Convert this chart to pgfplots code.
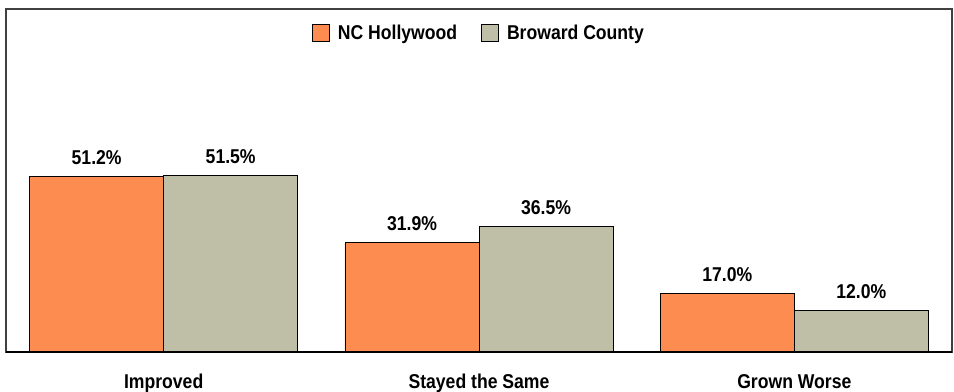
\documentclass[border=0pt]{standalone}
\usepackage{fontspec}
\setmainfont{Liberation Sans}[FakeStretch=0.88]
\usepackage{pgfplots}
\pgfplotsset{compat=1.18}
\definecolor{ncorange}{RGB}{253,140,80}
\definecolor{browgrey}{RGB}{191,191,168}

\begin{document}
\begin{tikzpicture}
\begin{axis}[
    name=ax,
    ybar=0pt,
    bar width=0.425,
    width=946pt, height=343pt,
    scale only axis,
    xmin=-0.5, xmax=2.5,
    ymin=0, ymax=100,
    xtick={0,1,2},
    xticklabels={Improved, Stayed the Same, Grown Worse},
    major tick length=0pt,
    ytick=\empty,
    xticklabel style={anchor=north, inner sep=0pt, yshift=-22pt, font=\fontsize{20}{24}\selectfont\bfseries},
    axis line style={draw=black!75, line width=1.3pt},
    /pgf/number format/assume math mode=true,
    nodes near coords={\pgfmathprintnumber[fixed,fixed zerofill,precision=1]{\pgfplotspointmeta}\%},
    nodes near coords style={anchor=base, inner sep=0pt, yshift=12pt, font=\fontsize{20}{24}\selectfont\bfseries},
    legend columns=2,
    legend style={at={(0.5,0.967)}, anchor=north, draw=none, fill=none,
        font=\fontsize{20}{24}\selectfont\bfseries,
        /tikz/every odd column/.append style={column sep=6pt},
        /tikz/every even column/.append style={column sep=22pt}},
    legend image code/.code={\draw[#1, draw=black, line width=0.8pt] (0pt,-8.5pt) rectangle (17pt,8.5pt);},
]
\addplot[fill=ncorange, draw=black, line width=0.8pt] coordinates {(0,51.2) (1,31.9) (2,17.0)};
\addplot[fill=browgrey, draw=black, line width=0.8pt] coordinates {(0,51.5) (1,36.5) (2,12.0)};
\legend{NC Hollywood, Broward County}
\draw[line width=2pt, black] (rel axis cs:0,0) -- (rel axis cs:1,0);
\end{axis}
\pgfresetboundingbox
\path ([shift={(-6pt,-39pt)}]ax.south west) rectangle ([shift={(2pt,9pt)}]ax.north east);
\end{tikzpicture}
\end{document}
